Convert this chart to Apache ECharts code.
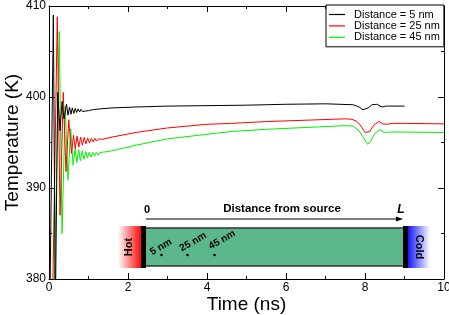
<!DOCTYPE html>
<html><head><meta charset="utf-8">
<script src="https://cdn.jsdelivr.net/npm/echarts@6/dist/echarts.min.js"></script>
<style>html,body{margin:0;padding:0;background:#fff}#c{width:449px;height:315px}</style>
</head><body><div id="c"></div><script>
const seriesNames = ['Distance = 5 nm', 'Distance = 25 nm', 'Distance = 45 nm'];
const seriesColors = ['#000000', '#ff0000', '#00f000'];

const time5 = [0,0.03,0.11,0.16,0.22,0.28,0.33,0.38,0.445,0.48,0.52,0.555,0.59,0.63,0.665,0.70,0.74,0.775,0.81,0.85,0.885,0.92,0.96,1.0,1.1,1.3,1.6,2.2,3.0,4.0,5.0,6.0,7.0,7.7,7.85,7.95,8.08,8.18,8.3,8.38,8.45,8.52,8.6,9.0,10];
const temp5 = [360,380,409.0,376,400.5,396.3,399.5,397.6,399.2,398.0,398.9,398.1,398.8,398.2,398.75,398.3,398.7,398.35,398.65,398.4,398.6,398.45,398.55,398.5,398.6,398.7,398.8,398.9,399.0,399.05,399.1,399.2,399.25,399.15,398.9,398.6,398.8,399.15,399.2,399.0,398.9,399.0,399.0,399.0];

const time25 = [0,0.10,0.21,0.28,0.36,0.43,0.50,0.57,0.62,0.665,0.71,0.755,0.80,0.845,0.89,0.935,0.98,1.025,1.07,1.115,1.16,1.205,1.25,1.35,1.6,2.2,3.0,4.0,4.6,5.5,6.5,7.5,7.67,7.8,7.9,8.0,8.05,8.12,8.22,8.35,8.45,8.55,8.7,9.0,10];
const temp25 = [350,380,408.8,387.0,400.5,391.8,397.5,393.8,395.8,394.3,395.7,394.5,395.6,394.7,395.55,394.85,395.5,394.95,395.45,395.05,395.45,395.15,395.4,395.35,395.6,396.1,396.6,397.0,397.1,397.3,397.45,397.6,397.55,397.3,396.8,396.1,395.9,396.2,396.9,397.3,397.05,397.0,397.1,397.1,397.05];

const time45 = [0,0.14,0.26,0.33,0.41,0.48,0.55,0.61,0.66,0.705,0.75,0.795,0.84,0.885,0.93,0.975,1.02,1.065,1.11,1.155,1.2,1.245,1.29,1.335,1.38,1.43,1.5,1.6,2.2,3.0,4.0,4.6,5.5,6.5,7.5,7.7,7.85,7.95,8.07,8.15,8.25,8.38,8.5,8.6,9.0,10];
const temp45 = [345,380,407.2,385.0,399.0,390.9,396.5,392.5,394.3,392.8,394.2,393.0,394.1,393.15,394.0,393.3,393.95,393.4,393.9,393.5,393.9,393.6,393.9,393.7,393.95,393.8,394.0,394.1,394.7,395.4,395.9,396.2,396.45,396.65,396.85,396.8,396.3,395.6,394.8,395.2,396.0,396.4,396.1,396.15,396.15,396.1];

const xRange = [0, 10, 2];
const yRange = [380, 410, 10];
const insetPoints = ['5 nm', '25 nm', '45 nm'];

const zip = (a, b) => a.map((v, i) => [v, b[i]]);
const allData = [zip(time5, temp5), zip(time25, temp25), zip(time45, temp45)];

const font = 'Liberation Sans, Arial, Helvetica, sans-serif';
const chart = echarts.init(document.getElementById('c'), null, {renderer: 'canvas'});

function axisCommon(show) {
  return {
    axisLine: {show: true, onZero: false, lineStyle: {color: '#000', width: 1}},
    axisTick: {show: true, inside: true, length: 6, lineStyle: {color: '#000'}},
    minorTick: {show: true, splitNumber: 2, length: 3, lineStyle: {color: '#000'}},
    splitLine: {show: false},
    axisLabel: {show: show, color: '#000', fontSize: 12, fontFamily: font, margin: 3}
  };
}

const option = {
  animation: false,
  backgroundColor: '#fff',
  grid: {left: 49, right: 5, top: 6, bottom: 36, containLabel: false, outerBoundsMode: 'none'},
  xAxis: [
    Object.assign({type: 'value', min: xRange[0], max: xRange[1], interval: xRange[2],
      name: 'Time (ns)', nameLocation: 'middle', nameGap: 16, nameMoveOverlap: false,
      nameTextStyle: {fontSize: 19, color: '#000', fontFamily: font}}, axisCommon(true)),
    Object.assign({type: 'value', position: 'top', min: xRange[0], max: xRange[1], interval: xRange[2]}, axisCommon(false))
  ],
  yAxis: [
    Object.assign({type: 'value', min: yRange[0], max: yRange[1], interval: yRange[2],
      name: 'Temperature (K)', nameLocation: 'middle', nameGap: 27, nameMoveOverlap: false,
      nameTextStyle: {fontSize: 19, color: '#000', fontFamily: font}}, axisCommon(true)),
    Object.assign({type: 'value', position: 'right', min: yRange[0], max: yRange[1], interval: yRange[2]}, axisCommon(false))
  ],
  legend: {
    orient: 'vertical', left: 326, top: 5,
    data: seriesNames,
    backgroundColor: '#fff', borderColor: '#000', borderWidth: 1,
    padding: [4, 4, 4, 3], itemGap: 0.4,
    icon: 'rect', itemWidth: 16, itemHeight: 1.2,
    textStyle: {fontSize: 11, color: '#000', fontFamily: font, lineHeight: 10, padding: [0, 0, 0, 4]}
  },
  series: seriesNames.map((n, i) => ({
    name: n, type: 'line', data: allData[i], showSymbol: false, symbol: 'none',
    clip: true, z: 3 - i,
    lineStyle: {color: seriesColors[i], width: 1}, itemStyle: {color: seriesColors[i]}
  })),
  graphic: [
    {type: 'rect', shape: {x: 118, y: 226, width: 24, height: 42},
      style: {fill: new echarts.graphic.LinearGradient(0, 0, 1, 0, [{offset: 0, color: 'rgba(255,0,0,0)'}, {offset: 1, color: 'rgba(255,0,0,1)'}])}},
    {type: 'rect', shape: {x: 406, y: 226, width: 24, height: 42},
      style: {fill: new echarts.graphic.LinearGradient(0, 0, 1, 0, [{offset: 0, color: 'rgba(0,0,255,1)'}, {offset: 1, color: 'rgba(0,0,255,0)'}])}},
    {type: 'rect', shape: {x: 145, y: 228, width: 259, height: 38},
      style: {fill: '#5cb88c', stroke: '#333', lineWidth: 1.5}},
    {type: 'rect', shape: {x: 141, y: 226, width: 5, height: 42}, style: {fill: '#000'}},
    {type: 'rect', shape: {x: 403, y: 226, width: 5, height: 42}, style: {fill: '#000'}},
    {type: 'text', x: 129, y: 247, rotation: Math.PI / 2,
      style: {text: 'Hot', font: 'bold 11px ' + font, fill: '#000', align: 'center', verticalAlign: 'middle'}},
    {type: 'text', x: 419, y: 247, rotation: -Math.PI / 2,
      style: {text: 'Cold', font: 'bold 11px ' + font, fill: '#000', align: 'center', verticalAlign: 'middle'}},
    {type: 'line', shape: {x1: 146, y1: 219, x2: 398, y2: 219}, style: {stroke: '#000', lineWidth: 1}},
    {type: 'polygon', shape: {points: [[403, 219], [396, 216.5], [396, 221.5]]}, style: {fill: '#000'}},
    {type: 'text', x: 147, y: 210, style: {text: '0', font: 'bold 11px ' + font, fill: '#000', align: 'center', verticalAlign: 'middle'}},
    {type: 'text', x: 401, y: 210, style: {text: 'L', font: 'italic bold 12px ' + font, fill: '#000', align: 'center', verticalAlign: 'middle'}},
    {type: 'text', x: 282, y: 209, style: {text: 'Distance from source', font: 'bold 11.5px ' + font, fill: '#000', align: 'center', verticalAlign: 'middle'}},
    {type: 'circle', shape: {cx: 161.5, cy: 255, r: 1.3}, style: {fill: '#000'}},
    {type: 'circle', shape: {cx: 187.5, cy: 255, r: 1.3}, style: {fill: '#000'}},
    {type: 'circle', shape: {cx: 214.5, cy: 255, r: 1.3}, style: {fill: '#000'}},
    {type: 'text', x: 161, y: 247, rotation: Math.PI / 6,
      style: {text: insetPoints[0], font: 'bold 10px ' + font, fill: '#000', align: 'center', verticalAlign: 'middle'}},
    {type: 'text', x: 193, y: 242, rotation: Math.PI / 6,
      style: {text: insetPoints[1], font: 'bold 10px ' + font, fill: '#000', align: 'center', verticalAlign: 'middle'}},
    {type: 'text', x: 222, y: 240, rotation: Math.PI / 6,
      style: {text: insetPoints[2], font: 'bold 10px ' + font, fill: '#000', align: 'center', verticalAlign: 'middle'}}
  ]
};
chart.setOption(option);
</script></body></html>
